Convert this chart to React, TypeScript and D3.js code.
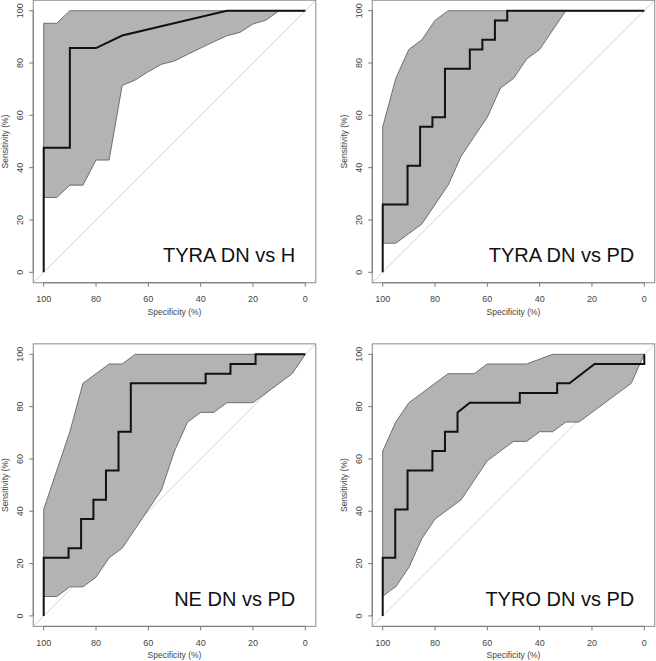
import React from "react";
import * as d3 from "d3";

// ---------- data ----------
const tickValues = [100, 80, 60, 40, 20, 0];
const panelTitles = ["TYRA DN vs H", "TYRA DN vs PD", "NE DN vs PD", "TYRO DN vs PD"];
const xTitle = "Specificity (%)";
const yTitle = "Sensitivity (%)";

// Panel 1: TYRA DN vs H
const roc1Spec = [100, 100, 90, 90, 80, 70, 30, 0];
const roc1Sens = [0, 47.6, 47.6, 85.7, 85.7, 90.5, 100, 100];
const ciUp1Spec = [100, 95, 90, 0];
const ciUp1Sens = [95.2, 95.2, 100, 100];
const ciLo1Spec = [100, 95, 90, 85, 80, 75, 70, 65, 60, 55, 50, 45, 40, 35, 30, 25, 20, 15, 10, 0];
const ciLo1Sens = [28.6, 28.6, 33.3, 33.3, 42.9, 42.9, 71.4, 73.5, 76.7, 79.5, 80.8, 83.3, 85.7, 88.1, 90.4, 91.7, 94.9, 96.4, 100, 100];

// Panel 2: TYRA DN vs PD
const roc2Spec = [100, 100, 90.5, 90.5, 85.7, 85.7, 81, 81, 76.2, 76.2, 66.7, 66.7, 61.9, 61.9, 57.1, 57.1, 52.4, 52.4, 0];
const roc2Sens = [0, 25.9, 25.9, 40.7, 40.7, 55.6, 55.6, 59.3, 59.3, 77.8, 77.8, 85.2, 85.2, 88.9, 88.9, 96.3, 96.3, 100, 100];
const ciUp2Spec = [100, 95, 90, 85, 80, 75, 0];
const ciUp2Sens = [55.6, 74.1, 85.2, 88.9, 96.3, 100, 100];
const ciLo2Spec = [100, 95, 90, 85, 80, 75, 70, 65, 60, 55, 50, 45, 40, 35, 30, 0];
const ciLo2Sens = [11.1, 11.1, 14.8, 18.5, 25.9, 33.3, 44.4, 51.9, 59.3, 70.4, 74.1, 81.5, 85.2, 92.6, 100, 100];

// Panel 3: NE DN vs PD
const roc3Spec = [100, 100, 90.5, 90.5, 85.7, 85.7, 81, 81, 76.2, 76.2, 71.4, 71.4, 66.7, 66.7, 38.1, 38.1, 28.6, 28.6, 19, 19, 0];
const roc3Sens = [0, 22.2, 22.2, 25.9, 25.9, 37, 37, 44.4, 44.4, 55.6, 55.6, 70.4, 70.4, 88.9, 88.9, 92.6, 92.6, 96.3, 96.3, 100, 100];
const ciUp3Spec = [100, 95, 90, 85, 80, 75, 70, 65, 0];
const ciUp3Sens = [40.7, 55.6, 70.4, 88.9, 92.6, 96.3, 96.3, 100, 100];
const ciLo3Spec = [100, 95, 90, 85, 80, 75, 70, 65, 60, 55, 50, 45, 40, 35, 30, 20, 5, 0];
const ciLo3Sens = [7.4, 7.4, 11.1, 11.1, 14.8, 22.2, 25.9, 33.3, 40.7, 48.1, 63, 74.1, 77.8, 77.8, 81.5, 81.5, 92.6, 100];

// Panel 4: TYRO DN vs PD
const roc4Spec = [100, 100, 95.2, 95.2, 90.5, 90.5, 81, 81, 76.2, 76.2, 71.4, 71.4, 66.7, 47.6, 47.6, 33.3, 33.3, 28.6, 19, 0, 0];
const roc4Sens = [0, 22.2, 22.2, 40.7, 40.7, 55.6, 55.6, 63, 63, 70.4, 70.4, 77.8, 81.5, 81.5, 85.2, 85.2, 88.9, 88.9, 96.3, 96.3, 100];
const ciUp4Spec = [100, 95, 90, 85, 80, 75, 65, 60, 45, 35, 0];
const ciUp4Sens = [63, 74.1, 81.5, 85.2, 88.9, 92.6, 92.6, 96.3, 96.3, 100, 100];
const ciLo4Spec = [100, 97, 95, 90, 85, 80, 75, 70, 65, 60, 55, 50, 45, 40, 35, 30, 25, 5, 0];
const ciLo4Sens = [7.4, 9.8, 11.1, 18.5, 29.6, 37, 40.7, 44.4, 51.9, 59.3, 63, 66.7, 66.7, 70.4, 70.4, 74.1, 74.1, 88.9, 100];

const panels = [
  { title: panelTitles[0], rocSpec: roc1Spec, rocSens: roc1Sens, upSpec: ciUp1Spec, upSens: ciUp1Sens, loSpec: ciLo1Spec, loSens: ciLo1Sens },
  { title: panelTitles[1], rocSpec: roc2Spec, rocSens: roc2Sens, upSpec: ciUp2Spec, upSens: ciUp2Sens, loSpec: ciLo2Spec, loSens: ciLo2Sens },
  { title: panelTitles[2], rocSpec: roc3Spec, rocSens: roc3Sens, upSpec: ciUp3Spec, upSens: ciUp3Sens, loSpec: ciLo3Spec, loSens: ciLo3Sens },
  { title: panelTitles[3], rocSpec: roc4Spec, rocSens: roc4Sens, upSpec: ciUp4Spec, upSens: ciUp4Sens, loSpec: ciLo4Spec, loSens: ciLo4Sens },
];

// ---------- layout ----------
const W = 656;
const H = 661;
const SIZE = 261.6;
const colX = [43.7, 382.7];
const rowY = [10.7, 354.3];
const FONT = "'Liberation Sans', Arial, Helvetica, sans-serif";

function Panel({ p, idx }: { p: any; idx: number }) {
  const x0 = colX[idx % 2];
  const y0 = rowY[Math.floor(idx / 2)];
  const x = d3.scaleLinear().domain([100, 0]).range([x0, x0 + SIZE]);
  const y = d3.scaleLinear().domain([100, 0]).range([y0, y0 + SIZE]);
  const line = d3.line<[number, number]>().x((d) => x(d[0])).y((d) => y(d[1]));

  const up: [number, number][] = p.upSpec.map((s: number, i: number) => [s, p.upSens[i]]);
  const lo: [number, number][] = p.loSpec.map((s: number, i: number) => [s, p.loSens[i]]).reverse();
  const band = line([...up, ...lo]) + "Z";
  const roc = line(p.rocSpec.map((s: number, i: number) => [s, p.rocSens[i]]));

  const bx0 = x(104), bx1 = x(-4), by0 = y(104), by1 = y(-4);

  return (
    <g>
      <line x1={x(104)} y1={y(-4)} x2={x(-4)} y2={y(104)} stroke="#d4d4d4" strokeWidth={1} />
      <path d={band} fill="#b3b3b3" stroke="#555" strokeWidth={0.8} />
      <path d={roc || ""} fill="none" stroke="#111" strokeWidth={2} />
      <rect x={bx0} y={by0} width={bx1 - bx0} height={by1 - by0} fill="none" stroke="#8a8a8a" strokeWidth={1} />
      {/* x axis */}
      <line x1={x(100)} x2={x(0)} y1={by1} y2={by1} stroke="#777" strokeWidth={1} />
      {tickValues.map((t) => (
        <g key={"x" + t}>
          <line x1={x(t)} x2={x(t)} y1={by1} y2={by1 + 4} stroke="#777" />
          <text x={x(t)} y={by1 + 19.5} textAnchor="middle" fontSize={9} fill="#444" fontFamily={FONT}>{t}</text>
        </g>
      ))}
      <text x={(x(100) + x(0)) / 2} y={by1 + 32} textAnchor="middle" fontSize={8.5} fill="#444" fontFamily={FONT}>{xTitle}</text>
      {/* y axis */}
      <line x1={bx0} x2={bx0} y1={y(100)} y2={y(0)} stroke="#777" strokeWidth={1} />
      {tickValues.map((t) => (
        <g key={"y" + t}>
          <line x1={bx0 - 4} x2={bx0} y1={y(t)} y2={y(t)} stroke="#777" />
          <text transform={`translate(${bx0 - 10.5},${y(t)}) rotate(-90)`} textAnchor="middle" fontSize={9} fill="#444" fontFamily={FONT}>{t}</text>
        </g>
      ))}
      <text transform={`translate(${bx0 - 25},${(y(100) + y(0)) / 2}) rotate(-90)`} textAnchor="middle" fontSize={8.5} fill="#444" fontFamily={FONT}>{yTitle}</text>
      <text x={x(0) - 10} y={y(0) - 10} textAnchor="end" fontSize={20} fill="#111" fontFamily={FONT}>{p.title}</text>
    </g>
  );
}

export default function App() {
  return (
    <svg width={W} height={H} style={{ position: "absolute", left: 0, top: 0, background: "#fff" }}>
      <rect x={0} y={0} width={W} height={H} fill="#fff" />
      {panels.map((p, i) => (
        <Panel key={i} p={p} idx={i} />
      ))}
    </svg>
  );
}
